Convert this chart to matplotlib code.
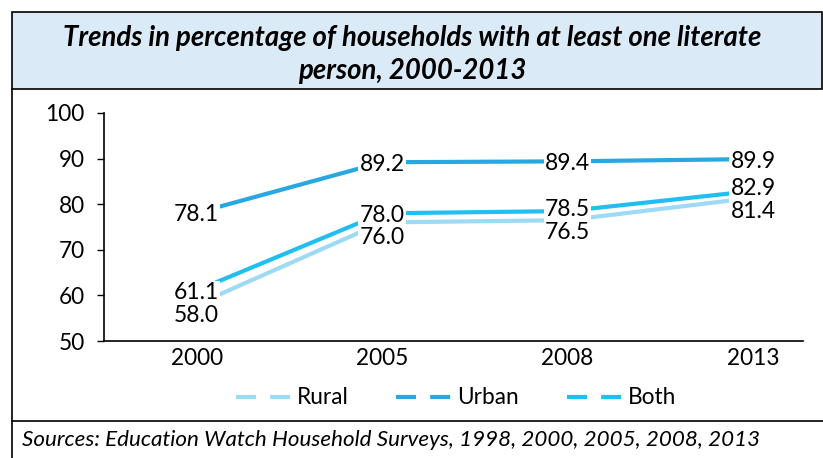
import matplotlib
matplotlib.use("Agg")
import matplotlib.pyplot as plt
from matplotlib.lines import Line2D
from matplotlib.patches import Rectangle

# Data
years = ["2000", "2005", "2008", "2013"]
rural = [58.0, 76.0, 76.5, 81.4]
urban = [78.1, 89.2, 89.4, 89.9]
both = [61.1, 78.0, 78.5, 82.9]
series_names = ["Rural", "Urban", "Both"]
colors = ["#9fdaf5", "#29a7e0", "#21bff0"]

# label nudges in pixels (vertical), per series
label_dy = [[-9, -13, -10, -12], [0, 0, 0, 0], [0, 0, 4, 4]]

plt.rcParams["font.family"] = ["Lato", "DejaVu Sans"]

W, H = 823, 458
fig = plt.figure(figsize=(W / 100, H / 100), dpi=100)


def fx(px):
    return px / W


def fy(py):
    return 1 - py / H


# Title box
fig.add_artist(Rectangle((fx(12), fy(89)), fx(822) - fx(12), fy(12) - fy(89),
                         transform=fig.transFigure, facecolor="#daeaf7",
                         edgecolor="black", linewidth=1.2))
fig.text(fx(412), fy(38), "Trends in percentage of households with at least one literate",
         ha="center", va="center", fontsize=19.8, fontweight="bold", style="italic")
fig.text(fx(412), fy(71), "person, 2000-2013",
         ha="center", va="center", fontsize=19.8, fontweight="bold", style="italic")

# Outer borders
fig.add_artist(Line2D([fx(12), fx(12)], [fy(89), 0], transform=fig.transFigure,
                      color="black", linewidth=1.2))
fig.add_artist(Line2D([fx(12), 1], [fy(421), fy(421)], transform=fig.transFigure,
                      color="black", linewidth=1.2))
fig.text(fx(22), fy(440), "Sources: Education Watch Household Surveys, 1998, 2000, 2005, 2008, 2013",
         ha="left", va="center", fontsize=16.1, style="italic")

# Chart
ax = fig.add_axes([fx(104), fy(341), fx(803) - fx(104), fy(113) - fy(341)])
x = list(range(len(years)))
data = [rural, urban, both]
for vals, c in zip(data, colors):
    ax.plot(x, vals, color=c, linewidth=3, solid_capstyle="butt", zorder=2)

for i, vals in enumerate(data):
    for xi, v, dy in zip(x, vals, label_dy[i]):
        ax.annotate(f"{v:.1f}", (xi, v), xytext=(0, dy), textcoords="offset pixels",
                    ha="center", va="center_baseline", fontsize=16.5, zorder=5 + i,
                    bbox=dict(boxstyle="square,pad=0.05", facecolor="white",
                              edgecolor="none"))

ax.set_xlim(-0.5, 3.27)
ax.set_ylim(50, 100)
ax.set_yticks([50, 60, 70, 80, 90, 100])
ax.set_xticks(x)
ax.set_xticklabels(years)
ax.tick_params(axis="y", direction="out", length=5, width=1, pad=9, labelsize=16.3)
ax.tick_params(axis="x", length=0, pad=5, labelsize=16.3)
for s in ["top", "right"]:
    ax.spines[s].set_visible(False)
for s in ["left", "bottom"]:
    ax.spines[s].set_linewidth(1.2)

handles = [Line2D([], [], color=c, linewidth=3, linestyle=(0, (4.8, 3.4)))
           for c in colors]
fig.legend(handles, series_names, loc="center", bbox_to_anchor=(fx(456), fy(398)),
           ncol=3, frameon=False, fontsize=16.3, handlelength=2.45,
           handletextpad=0.25, columnspacing=2.1)

fig.savefig("out.png", dpi=100)
